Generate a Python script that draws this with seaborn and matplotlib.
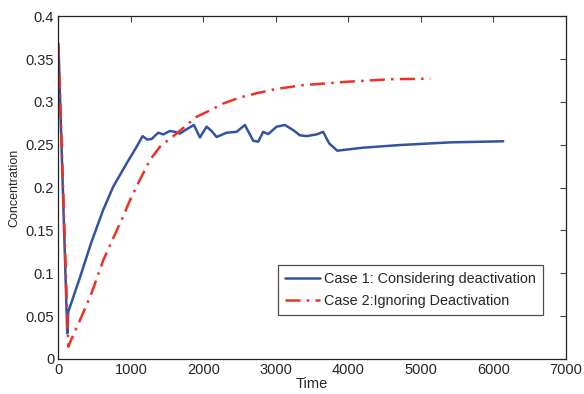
import matplotlib
matplotlib.use("Agg")
import matplotlib.pyplot as plt
import pandas as pd
import seaborn as sns

# ── Data ─────────────────────────────────────────────────────────────────────
time_case1 = [0, 122, 136, 297, 458, 618, 756, 940, 1079, 1161, 1225, 1285,
              1377, 1446, 1538, 1607, 1676, 1768, 1869, 1952, 2044, 2113, 2182,
              2320, 2458, 2572, 2687, 2756, 2825, 2894, 3010, 3124, 3239, 3331,
              3423, 3561, 3652, 3735, 3846, 4200, 4710, 5400, 6135]
conc_case1 = [0.368, 0.030, 0.055, 0.095, 0.137, 0.174, 0.201, 0.228, 0.2476,
              0.260, 0.256, 0.2566, 0.264, 0.262, 0.266, 0.265, 0.263, 0.268,
              0.273, 0.2585, 0.271, 0.266, 0.259, 0.264, 0.265, 0.273, 0.2546,
              0.2535, 0.265, 0.2624, 0.271, 0.273, 0.267, 0.261, 0.260, 0.262,
              0.265, 0.2515, 0.243, 0.2465, 0.2496, 0.2527, 0.254]

time_case2 = [0, 136, 200, 297, 458, 618, 756, 871, 986, 1124, 1262, 1400,
              1538, 1630, 1906, 2090, 2273, 2500, 2734, 3000, 3377, 3975, 4300,
              4618, 5130]
conc_case2 = [0.368, 0.0143, 0.027, 0.045, 0.077, 0.115, 0.141, 0.162, 0.185,
              0.209, 0.232, 0.2476, 0.257, 0.263, 0.2826, 0.290, 0.298, 0.305,
              0.310, 0.315, 0.3195, 0.3234, 0.325, 0.3265, 0.327]

LABEL1 = "Case 1: Considering deactivation"
LABEL2 = "Case 2:Ignoring Deactivation"

df = pd.concat([
    pd.DataFrame({"Time": time_case1, "Concentration": conc_case1, "Case": LABEL1}),
    pd.DataFrame({"Time": time_case2, "Concentration": conc_case2, "Case": LABEL2}),
])

sns.set_theme(style="white")
plt.rcParams["font.family"] = ["Liberation Sans", "DejaVu Sans"]

fig = plt.figure(figsize=(5.84, 3.94), dpi=100)
ax = fig.add_axes([0.100, 0.089, 0.869, 0.870])

sns.lineplot(data=df, x="Time", y="Concentration", hue="Case", style="Case",
             palette={LABEL1: "#3253a4", LABEL2: "#ee3124"},
             dashes={LABEL1: "", LABEL2: (6, 2.5, 1, 2.5)},
             linewidth=1.8, sort=False, estimator=None, ax=ax)

ax.set_xlim(0, 7000)
ax.set_ylim(0, 0.4)
ax.set_xticks(range(0, 7001, 1000))
ax.set_yticks([0, 0.05, 0.1, 0.15, 0.2, 0.25, 0.3, 0.35, 0.4])
ax.set_yticklabels(["0", "0.05", "0.1", "0.15", "0.2", "0.25", "0.3", "0.35", "0.4"])
ax.tick_params(direction="in", length=4, width=0.8, color="#444444",
               labelsize=10.5, top=True, right=True, pad=3)
for s in ax.spines.values():
    s.set_color("#222222")
    s.set_linewidth(0.9)
ax.set_xlabel("Time", fontsize=10.5, labelpad=0)
ax.set_ylabel("Concentration", fontsize=9, labelpad=4)

leg = ax.legend(loc="lower right", bbox_to_anchor=(0.955, 0.128), fontsize=10.4,
                frameon=True, fancybox=False, borderpad=0.5, handlelength=2.4,
                labelspacing=0.55, handletextpad=0.3, borderaxespad=0)
leg.get_frame().set_edgecolor("#222222")
leg.get_frame().set_linewidth(0.9)

fig.savefig("out.png", dpi=100)
